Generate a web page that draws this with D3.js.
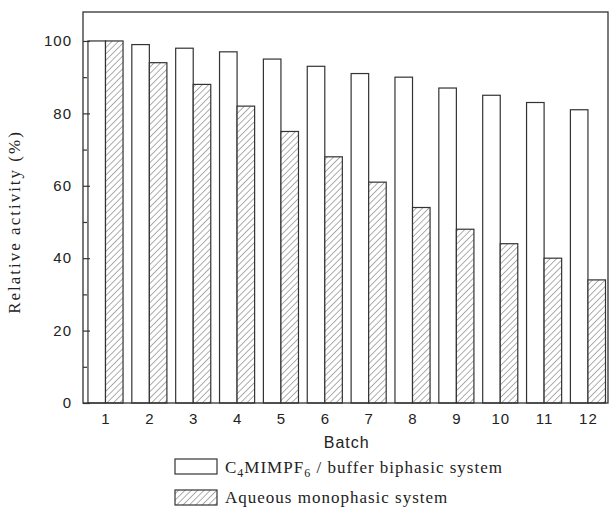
<!DOCTYPE html>
<html>
<head>
<meta charset="utf-8">
<script src="https://cdn.jsdelivr.net/npm/d3@7"></script>
<style>
	body { margin: 0; background: #fff; }
	.tick text { font-family: "Liberation Sans", Arial, sans-serif; font-size: 15px; letter-spacing: 1px; fill: #222; }
	.serif { font-family: "Liberation Serif", "Times New Roman", serif; fill: #222; }
</style>
</head>
<body>
<div id="chart"></div>
<script>
const batches = [1, 2, 3, 4, 5, 6, 7, 8, 9, 10, 11, 12];
const biphasic = [100, 99, 98, 97, 95, 93, 91, 90, 87, 85, 83, 81];
const aqueous = [100, 94, 88, 82, 75, 68, 61, 54, 48, 44, 40, 34];
const yMajor = [0, 20, 40, 60, 80, 100];
const yMinor = [10, 30, 50, 70, 90];

const width = 610, height = 507;
const plot = {left: 83, right: 608, top: 12, bottom: 403};
const barW = 0.4; // in batch units

const svg = d3.select("#chart")
	.append("svg")
	.attr("width", width)
	.attr("height", height);

const defs = svg.append("defs");
const pat = defs.append("pattern")
	.attr("id", "hatch")
	.attr("patternUnits", "userSpaceOnUse")
	.attr("width", 4.5)
	.attr("height", 4.5)
	.attr("patternTransform", "rotate(45)");
pat.append("rect").attr("width", 4.5).attr("height", 4.5).attr("fill", "#fff");
pat.append("line")
	.attr("x1", 0).attr("y1", 0).attr("x2", 0).attr("y2", 4.5)
	.attr("stroke", "#333")
	.attr("stroke-width", 0.8);

const x = d3.scaleLinear()
	.domain([0.487, 12.457])
	.range([plot.left, plot.right]);

const y = d3.scaleLinear()
	.domain([0, 108])
	.range([plot.bottom, plot.top]);

// bars
const g = svg.append("g");
g.selectAll(".bi")
	.data(batches)
	.enter().append("rect")
	.attr("class", "bi")
	.attr("x", (d) => x(d - barW))
	.attr("width", x(barW) - x(0))
	.attr("y", (d, i) => y(biphasic[i]))
	.attr("height", (d, i) => y(0) - y(biphasic[i]))
	.attr("fill", "#fff")
	.attr("stroke", "#333")
	.attr("stroke-width", 1.2);

g.selectAll(".aq")
	.data(batches)
	.enter().append("rect")
	.attr("class", "aq")
	.attr("x", (d) => x(d))
	.attr("width", x(barW) - x(0))
	.attr("y", (d, i) => y(aqueous[i]))
	.attr("height", (d, i) => y(0) - y(aqueous[i]))
	.attr("fill", "url(#hatch)")
	.attr("stroke", "#333")
	.attr("stroke-width", 1.2);

// frame
svg.append("rect")
	.attr("x", plot.left)
	.attr("y", plot.top)
	.attr("width", plot.right - plot.left)
	.attr("height", plot.bottom - plot.top)
	.attr("fill", "none")
	.attr("stroke", "#333")
	.attr("stroke-width", 1.3);

// axes
const yAxis = d3.axisLeft(y).tickValues(yMajor).tickSizeInner(-7).tickSizeOuter(0).tickPadding(11);
const yAxisMinor = d3.axisLeft(y).tickValues(yMinor).tickSizeInner(-4).tickSizeOuter(0).tickFormat("");
const xAxis = d3.axisBottom(x).tickValues(batches).tickSize(0).tickPadding(10);

svg.append("g")
	.attr("transform", "translate(" + plot.left + ",0)")
	.call(yAxis)
	.call((s) => s.select(".domain").remove())
	.call((s) => s.selectAll("line").attr("stroke", "#333").attr("stroke-width", 1.2));

svg.append("g")
	.attr("transform", "translate(" + plot.left + ",0)")
	.call(yAxisMinor)
	.call((s) => s.select(".domain").remove())
	.call((s) => s.selectAll("line").attr("stroke", "#333").attr("stroke-width", 1.2));

svg.append("g")
	.attr("transform", "translate(0," + plot.bottom + ")")
	.call(xAxis)
	.call((s) => s.select(".domain").remove());

// axis titles
svg.append("text")
	.attr("x", (x(1) + x(12)) / 2)
	.attr("y", 448)
	.attr("text-anchor", "middle")
	.style("font-family", "'Liberation Sans', Arial, sans-serif")
	.style("font-size", "16px")
	.style("letter-spacing", "1px")
	.style("fill", "#222")
	.text("Batch");

svg.append("text")
	.attr("class", "serif")
	.attr("transform", "translate(20," + (y(50)) + ") rotate(-90)")
	.attr("text-anchor", "middle")
	.style("font-size", "17px")
	.style("letter-spacing", "2px")
	.text("Relative activity (%)");

// legend
const legend = svg.append("g");
const items = [
	{fill: "#fff", y: 459},
	{fill: "url(#hatch)", y: 490}
];
legend.selectAll("rect")
	.data(items)
	.enter().append("rect")
	.attr("x", 175)
	.attr("y", (d) => d.y)
	.attr("width", 42)
	.attr("height", 15)
	.attr("fill", (d) => d.fill)
	.attr("stroke", "#333")
	.attr("stroke-width", 1.2);

const t1 = legend.append("text")
	.attr("class", "serif")
	.attr("x", 225)
	.attr("y", 473)
	.style("font-size", "17px")
	.style("letter-spacing", "1px");
t1.append("tspan").text("C");
t1.append("tspan").attr("dy", 4).style("font-size", "12px").text("4");
t1.append("tspan").attr("dy", -4).text("MIMPF");
t1.append("tspan").attr("dy", 4).style("font-size", "12px").text("6");
t1.append("tspan").attr("dy", -4).text(" / buffer biphasic system");

legend.append("text")
	.attr("class", "serif")
	.attr("x", 225)
	.attr("y", 503)
	.style("font-size", "17px")
	.style("letter-spacing", "1px")
	.text("Aqueous monophasic system");
</script>
</body>
</html>
